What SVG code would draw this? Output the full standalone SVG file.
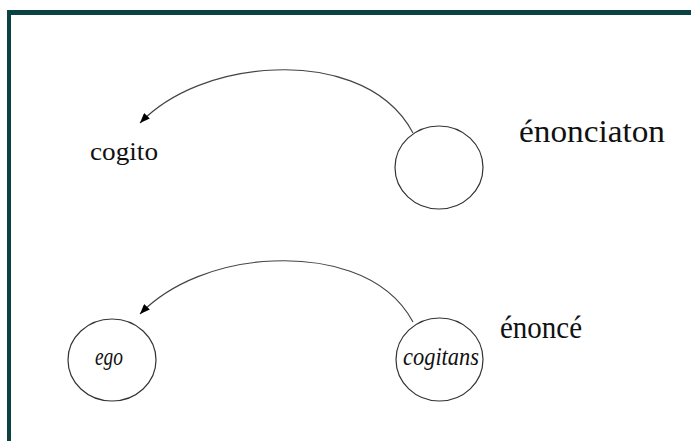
<svg xmlns="http://www.w3.org/2000/svg" width="691" height="441" viewBox="0 0 691 441">
<defs>
<style>
.node{fill:none;stroke:#333;stroke-width:1.2}
.lbl{font-family:"Liberation Serif","Times New Roman",serif;fill:#111}
.it{font-style:italic}
.conn{fill:none;stroke:#444;stroke-width:1.2}
</style>
<marker id="ah" viewBox="0 0 10 8" refX="10" refY="4" markerWidth="10" markerHeight="8" markerUnits="userSpaceOnUse" orient="auto">
<path d="M0,0 L10,4 L0,8 Z" fill="#000"/>
</marker>
</defs>
<rect x="0" y="0" width="691" height="441" fill="#fff"/>
<g id="frame" fill="#0b4242">
<rect x="7" y="10" width="684" height="5"/>
<rect x="7" y="10" width="4" height="431"/>
</g>
<g id="connectors">
<path class="conn" marker-end="url(#ah)" d="M413,133 C385,80 320,68 275,70 C220,72 170,92 140,123"/>
<path class="conn" marker-end="url(#ah)" d="M413,322 C385,270 320,259 273,261 C220,263 170,283 140,314"/>
</g>
<g id="cogito">
<text class="lbl" x="90" y="160" font-size="25" textLength="68" lengthAdjust="spacingAndGlyphs">cogito</text>
</g>
<g id="enonciation-node">
<ellipse class="node" cx="439" cy="167.5" rx="44" ry="41.5"/>
</g>
<g id="enonciaton-label">
<text class="lbl" x="519" y="142" font-size="32" textLength="146" lengthAdjust="spacingAndGlyphs">énonciaton</text>
</g>
<g id="ego">
<ellipse class="node" cx="112" cy="360" rx="44" ry="41"/>
<text class="lbl it" x="95" y="365" font-size="26" textLength="28" lengthAdjust="spacingAndGlyphs">ego</text>
</g>
<g id="cogitans">
<ellipse class="node" cx="439.5" cy="359.5" rx="43.5" ry="41.5"/>
<text class="lbl it" x="403" y="365" font-size="26" textLength="76" lengthAdjust="spacingAndGlyphs">cogitans</text>
</g>
<g id="enonce-label">
<text class="lbl" x="500" y="338" font-size="32" textLength="82" lengthAdjust="spacingAndGlyphs">énoncé</text>
</g>
</svg>
